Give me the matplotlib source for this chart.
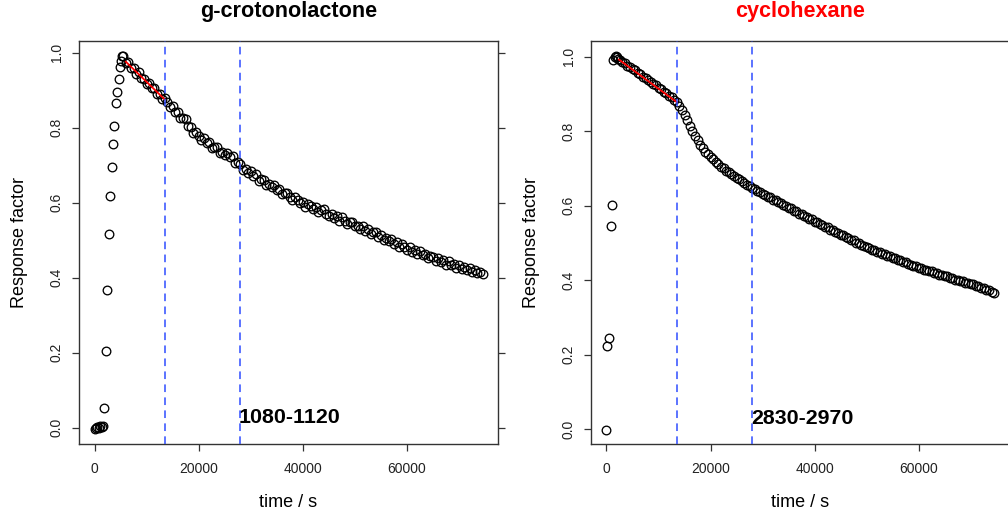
import numpy as np
import matplotlib
matplotlib.use("Agg")
import matplotlib.pyplot as plt

plt.rcParams["font.family"] = ["Liberation Sans", "DejaVu Sans"]

# ── Data ─────────────────────────────────────────────────

# g-crotonolactone: start-up phase and decay
crot_rise_t = [0, 270, 540, 810, 1080, 1350, 1620, 1900, 2190, 2480,
               2780, 3020, 3270, 3540, 3800, 4100, 4400, 4670, 4880, 5130, 5350]
crot_rise_y = [-0.004, -0.001, 0.003, -0.002, 0.004, 0.001, 0.005, 0.052, 0.205, 0.367,
               0.516, 0.619, 0.696, 0.756, 0.805, 0.865, 0.896, 0.931, 0.963, 0.978, 0.992]

crot_decay_t = [
    5500, 6000, 6500, 7000, 7500, 8000, 8500, 9000, 9500, 10000,
    10500, 11000, 11500, 12000, 12500, 13000, 13500, 14000, 14500, 15000,
    15500, 16000, 16500, 17000, 17500, 18000, 18500, 19000, 19500, 20000,
    20500, 21000, 21500, 22000, 22500, 23000, 23500, 24000, 24500, 25000,
    25500, 26000, 26500, 27000, 27500, 28000, 28500, 29000, 29500, 30000,
    30500, 31000, 31500, 32000, 32500, 33000, 33500, 34000, 34500, 35000,
    35500, 36000, 36500, 37000, 37500, 38000, 38500, 39000, 39500, 40000,
    40500, 41000, 41500, 42000, 42500, 43000, 43500, 44000, 44500, 45000,
    45500, 46000, 46500, 47000, 47500, 48000, 48500, 49000, 49500, 50000,
    50500, 51000, 51500, 52000, 52500, 53000, 53500, 54000, 54500, 55000,
    55500, 56000, 56500, 57000, 57500, 58000, 58500, 59000, 59500, 60000,
    60500, 61000, 61500, 62000, 62500, 63000, 63500, 64000, 64500, 65000,
    65500, 66000, 66500, 67000, 67500, 68000, 68500, 69000, 69500, 70000,
    70500, 71000, 71500, 72000, 72500, 73000, 73500, 74000, 74500]
crot_decay_y = [
    0.990, 0.972, 0.974, 0.959, 0.959, 0.944, 0.948, 0.933, 0.931, 0.916,
    0.920, 0.905, 0.907, 0.891, 0.890, 0.876, 0.879, 0.868, 0.855, 0.859,
    0.842, 0.843, 0.825, 0.827, 0.822, 0.804, 0.802, 0.785, 0.788, 0.777,
    0.766, 0.773, 0.760, 0.761, 0.745, 0.749, 0.748, 0.732, 0.735, 0.727,
    0.733, 0.723, 0.724, 0.707, 0.709, 0.704, 0.688, 0.690, 0.679, 0.684,
    0.670, 0.676, 0.659, 0.662, 0.660, 0.646, 0.651, 0.642, 0.646, 0.633,
    0.637, 0.624, 0.627, 0.627, 0.614, 0.608, 0.615, 0.608, 0.598, 0.601,
    0.589, 0.596, 0.590, 0.583, 0.589, 0.575, 0.580, 0.582, 0.570, 0.565,
    0.571, 0.560, 0.564, 0.551, 0.562, 0.550, 0.542, 0.549, 0.548, 0.537,
    0.539, 0.529, 0.537, 0.525, 0.529, 0.516, 0.521, 0.521, 0.509, 0.513,
    0.501, 0.507, 0.498, 0.503, 0.490, 0.494, 0.482, 0.490, 0.483, 0.475,
    0.481, 0.469, 0.473, 0.463, 0.470, 0.461, 0.464, 0.452, 0.458, 0.454,
    0.445, 0.452, 0.442, 0.447, 0.435, 0.444, 0.433, 0.436, 0.427, 0.434,
    0.424, 0.429, 0.421, 0.426, 0.415, 0.420, 0.413, 0.415, 0.411]

# cyclohexane: start-up phase and decay
cyc_rise_t = [0, 190, 500, 770, 1020, 1300, 1550, 1800, 2050, 2300]
cyc_rise_y = [-0.002, 0.224, 0.244, 0.545, 0.602, 0.991, 0.999, 1.003, 0.998, 0.994]

cyc_decay_t = [
    2500, 3000, 3500, 4000, 4500, 5000, 5500, 6000, 6500, 7000,
    7500, 8000, 8500, 9000, 9500, 10000, 10500, 11000, 11500, 12000,
    12500, 13000, 13500, 14000, 14500, 15000, 15500, 16000, 16500, 17000,
    17500, 18000, 18500, 19000, 19500, 20000, 20500, 21000, 21500, 22000,
    22500, 23000, 23500, 24000, 24500, 25000, 25500, 26000, 26500, 27000,
    27500, 28000, 28500, 29000, 29500, 30000, 30500, 31000, 31500, 32000,
    32500, 33000, 33500, 34000, 34500, 35000, 35500, 36000, 36500, 37000,
    37500, 38000, 38500, 39000, 39500, 40000, 40500, 41000, 41500, 42000,
    42500, 43000, 43500, 44000, 44500, 45000, 45500, 46000, 46500, 47000,
    47500, 48000, 48500, 49000, 49500, 50000, 50500, 51000, 51500, 52000,
    52500, 53000, 53500, 54000, 54500, 55000, 55500, 56000, 56500, 57000,
    57500, 58000, 58500, 59000, 59500, 60000, 60500, 61000, 61500, 62000,
    62500, 63000, 63500, 64000, 64500, 65000, 65500, 66000, 66500, 67000,
    67500, 68000, 68500, 69000, 69500, 70000, 70500, 71000, 71500, 72000,
    72500, 73000, 73500, 74000, 74500]
cyc_decay_y = [
    0.992, 0.986, 0.983, 0.976, 0.973, 0.966, 0.963, 0.956, 0.953, 0.946,
    0.943, 0.936, 0.933, 0.926, 0.923, 0.916, 0.913, 0.906, 0.903, 0.895,
    0.891, 0.883, 0.878, 0.867, 0.858, 0.844, 0.831, 0.814, 0.801, 0.786,
    0.775, 0.762, 0.754, 0.744, 0.739, 0.730, 0.725, 0.717, 0.713, 0.705,
    0.701, 0.694, 0.691, 0.684, 0.681, 0.674, 0.671, 0.665, 0.662, 0.655,
    0.653, 0.647, 0.645, 0.639, 0.637, 0.631, 0.629, 0.624, 0.622, 0.616,
    0.614, 0.609, 0.607, 0.601, 0.600, 0.594, 0.593, 0.587, 0.585, 0.579,
    0.578, 0.572, 0.570, 0.565, 0.563, 0.557, 0.556, 0.550, 0.549, 0.543,
    0.542, 0.536, 0.535, 0.529, 0.528, 0.522, 0.521, 0.515, 0.514, 0.508,
    0.507, 0.501, 0.500, 0.495, 0.493, 0.488, 0.487, 0.482, 0.481, 0.476,
    0.475, 0.470, 0.470, 0.465, 0.464, 0.459, 0.459, 0.454, 0.453, 0.448,
    0.448, 0.443, 0.442, 0.438, 0.437, 0.433, 0.433, 0.428, 0.428, 0.424,
    0.424, 0.419, 0.419, 0.415, 0.415, 0.410, 0.410, 0.406, 0.406, 0.401,
    0.401, 0.397, 0.397, 0.393, 0.393, 0.389, 0.389, 0.384, 0.384, 0.380,
    0.379, 0.374, 0.374, 0.369, 0.367]

# linear fits over the first window
crot_fit_t = [6000, 13500]
crot_fit_y = [0.976, 0.875]
cyc_fit_t = [2400, 13500]
cyc_fit_y = [0.992, 0.878]

window_t = [13500, 27900]
x_ticks = [0, 20000, 40000, 60000]
y_ticks = [0.0, 0.2, 0.4, 0.6, 0.8, 1.0]

FRAME = "#333333"


def draw_panel(ax, t, y, fit_t, fit_y, title, title_color, label, ylim):
    ax.plot(t, y, "o", mfc="none", mec="black", ms=6.2, mew=0.95, zorder=2)
    ax.plot(fit_t, fit_y, "-", color="red", lw=1.3, zorder=3)
    for xv in window_t:
        ax.axvline(xv, color="#2f4dff", lw=1.1, ls=(0, (5, 3.5)), zorder=4)
    ax.text(window_t[1] - 150, 0.028, label, ha="left", va="center",
            fontsize=15.4, fontweight="bold", color="black")

    ax.set_xlim(-2980, 77480)
    ax.set_ylim(*ylim)
    ax.set_xticks(x_ticks)
    ax.set_xticklabels([str(v) for v in x_ticks])
    ax.set_yticks(y_ticks)
    ax.set_yticklabels([f"{v:.1f}" for v in y_ticks], rotation=90, va="center")
    ax.tick_params(axis="both", direction="out", length=5, width=0.9,
                   color=FRAME, labelcolor="#222222", labelsize=10)
    ax.tick_params(axis="x", pad=8)
    ax.tick_params(axis="y", pad=6, right=True, labelright=False)
    for s in ax.spines.values():
        s.set_color(FRAME)
        s.set_linewidth(1.0)

    ax.set_xlabel("time / s", fontsize=13, va="center")
    ax.xaxis.set_label_coords(0.5, -0.146)
    ax.set_ylabel("Response factor", fontsize=13, va="center")
    ax.yaxis.set_label_coords(-0.141, 0.5)
    ax.set_title(title, fontsize=15.6, fontweight="bold", color=title_color,
                 y=1.052, va="center")


fig = plt.figure(figsize=(10.08, 5.15), dpi=100)
ax1 = fig.add_axes([0.0784, 0.1379, 0.4157, 0.7825])
ax2 = fig.add_axes([0.5863, 0.1379, 0.4153, 0.7825])

draw_panel(ax1, crot_rise_t + crot_decay_t, crot_rise_y + crot_decay_y,
           crot_fit_t, crot_fit_y, "g-crotonolactone", "black", "1080-1120",
           (-0.0435, 1.0312))
draw_panel(ax2, cyc_rise_t + cyc_decay_t, cyc_rise_y + cyc_decay_y,
           cyc_fit_t, cyc_fit_y, "cyclohexane", "red", "2830-2970",
           (-0.0395, 1.042))

fig.savefig("out.png", dpi=100)
plt.close(fig)
